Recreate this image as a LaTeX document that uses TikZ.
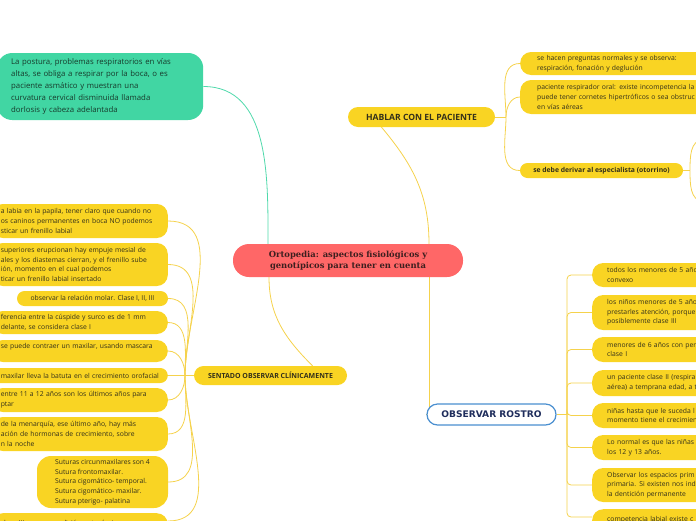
\documentclass[tikz,border=0pt]{standalone}
\usepackage{fontspec}
\setmainfont{Open Sans}
\newfontfamily\slabfont{DejaVu Serif}
\newfontfamily\widefont{DejaVu Sans}
\usetikzlibrary{calc}
\definecolor{ybg}{HTML}{F9D423}
\definecolor{yline}{HTML}{F5D24C}
\definecolor{ytxt}{HTML}{33301A}
\definecolor{gbg}{HTML}{41D6A3}
\definecolor{gline}{HTML}{4FD9AB}
\definecolor{gtxt}{HTML}{173A2B}
\definecolor{rbg}{HTML}{FF6767}
\definecolor{rtxt}{HTML}{3D1F1F}
\definecolor{oline}{HTML}{4A8FD0}
\definecolor{otxt}{HTML}{1F2D5C}
\newcommand{\nb}[1]{\mbox{#1}}
\pgfdeclarelayer{bg}
\pgfsetlayers{bg,main}
\begin{document}
\begin{tikzpicture}[x=1pt,y=1pt,
  ybox/.style={fill=ybg, draw=none, rounded corners=11, text=ytxt, inner sep=0pt,
    font=\fontsize{6.8}{9.7}\selectfont},
  lbox/.style={ybox, anchor=east, text width=158, inner xsep=9, align=left},
  rbox/.style={ybox, anchor=west, text width=200, inner xsep=15, align=left},
  tbox/.style={ybox, anchor=west, text width=200, inner xsep=17, align=left},
  yl/.style={draw=yline, line width=0.8pt},
  gl/.style={draw=gline, line width=0.8pt}]
\useasboundingbox (0,0) rectangle (696,-520);
\clip (0,0) rectangle (696,-520);

% green node
\node[fill=gbg, rounded corners=15, text=gtxt, anchor=west, text width=178, inner xsep=14,
  inner ysep=0pt, minimum height=67, align=left, font=\fontsize{7.8}{12}\selectfont] (G) at (-3,-86.5)
  {La postura, problemas respiratorios en vías\\altas, se obliga a respirar por la boca, o es\\paciente asmático y muestran una\\curvatura cervical disminuida llamada\\dorlosis y cabeza adelantada};

% central
\node[fill=rbg, rounded corners=16, text=rtxt, minimum width=230, minimum height=33, inner sep=0pt,
  align=center, font=\slabfont\bfseries\fontsize{8.4}{11}\selectfont] (C) at (348,-260.5)
  {Ortopedia: aspectos fisiológicos y\\genotípicos para tener en cuenta};

% main topics
\node[ybox, rounded corners=10, minimum width=147, minimum height=20,
  font=\bfseries\fontsize{8.6}{9}\selectfont] (H) at (421.5,-117) {HABLAR CON EL PACIENTE};
\node[ybox, rounded corners=9.5, minimum width=153, minimum height=19,
  font=\bfseries\fontsize{7}{8}\selectfont] (S) at (270.5,-375.5) {SENTADO OBSERVAR CLÍNICAMENTE};
\node[fill=white, draw=oline, line width=1.2pt, rounded corners=10.5, minimum width=129, minimum height=21,
  inner sep=0pt, text=otxt, font=\widefont\bfseries\fontsize{9.1}{10}\selectfont] (O) at (491.5,-414.5) {OBSERVAR ROSTRO};

% top right children
\node[tbox, minimum height=23] (T1) at (520,-63.5)
  {se hacen preguntas normales y se observa:\\respiración, fonación y deglución};
\node[tbox, minimum height=34] (T2) at (520,-97)
  {paciente respirador oral: existe incompetencia la\\puede tener cornetes hipertróficos o sea obstruc\\en vías aéreas};
\node[ybox, rounded corners=7.5, minimum width=163, minimum height=15,
  font=\bfseries\fontsize{6.8}{8}\selectfont] (T3) at (601.5,-170.5) {se debe derivar al especialista (otorrino)};

% left children
\node[lbox, minimum height=34] (L1) at (168,-221)
  {\nb{a labia en la papila, tener claro que cuando no}\\\nb{os caninos permanentes en boca NO podemos}\\sticar un frenillo labial};
\node[lbox, minimum height=43] (L2) at (168,-264.5)
  {\nb{superiores erupcionan hay empuje mesial de}\\\nb{ales y los diastemas cierran, y el frenillo sube}\\ión, momento en el cual podemos\\ticar un frenillo labial insertado};
\node[ybox, rounded corners=7.5, minimum width=151, minimum height=15] (L3) at (92.5,-298.5)
  {observar la relación molar. Clase I, II, III};
\node[lbox, minimum height=23] (L4) at (168,-322.5)
  {\nb{ferencia entre la cúspide y surco es de 1 mm}\\delante, se considera clase I};
\node[lbox, minimum height=22] (L5) at (168,-351)
  {\nb{se puede contraer un maxilar, usando mascara}\\\mbox{}};
\node[lbox, rounded corners=7.5, minimum height=15] (L6) at (168,-375.5)
  {\nb{maxilar lleva la batuta en el crecimiento orofacial}};
\node[lbox, minimum height=24] (L7) at (168,-400)
  {\nb{entre 11 a 12 años son los últimos años para}\\ptar};
\node[lbox, minimum height=34] (L8) at (168,-434)
  {\nb{de la menarquía, ese último año, hay más}\\\nb{ación de hormonas de crecimiento, sobre}\\n la noche};
\node[ybox, rounded corners=14, minimum width=131, minimum height=52, align=left] (L9) at (102.5,-482)
  {Suturas circunmaxilares son 4\\Sutura frontomaxilar.\\Sutura cigomático- temporal.\\Sutura cigomático- maxilar.\\Sutura pterigo- palatina};
\node[lbox, anchor=north east, inner ysep=4, minimum height=30] (L10) at (168,-513)
  {\nb{clase III es una condición autosómica}\\\mbox{}};

% right children
\node[rbox, minimum height=24] (R1) at (592,-275) {todos los menores de 5 años\\convexo};
\node[rbox, minimum height=35] (R2) at (592,-312.5) {los niños menores de 5 años\\prestarles atención, porque\\posiblemente clase III};
\node[rbox, minimum height=25] (R3) at (592,-349.5) {menores de 6 años con per\\clase I};
\node[rbox, minimum height=26] (R4) at (592,-383) {un paciente clase II (respira\\aérea) a temprana edad, a t};
\node[rbox, minimum height=25] (R5) at (592,-415.5) {niñas hasta que le suceda l\\momento tiene el crecimien};
\node[rbox, minimum height=25] (R6) at (592,-447.5) {Lo normal es que las niñas\\los 12 y 13 años.};
\node[rbox, minimum height=34] (R7) at (592,-485) {Observar los espacios prim\\primaria. Si existen nos ind\\la dentición permanente};
\node[rbox, anchor=north west, inner ysep=4, minimum height=30] (R8) at (592,-509) {competencia labial existe c\\\mbox{}};

% junction coordinates
\coordinate (jt) at (506,-117);
\coordinate (jl) at (185,-375.5);
\coordinate (jr) at (567,-414.5);
\coordinate (t3j) at (690,-170.5);
\coordinate (t3u) at (703,-140);
\coordinate (t3d) at (703,-201);

\begin{pgfonlayer}{bg}
  \draw[gl] ([xshift=-80pt]C.north) to[out=90,in=0] (G.east);
  \draw[yl] ([xshift=81pt]C.north) to[out=90,in=-50] ([xshift=-40pt]H.south);
  \draw[yl] ([xshift=-79pt]C.south) to[out=-90,in=135] ([xshift=42pt]S.north);
  \draw[yl] ([xshift=81pt]C.south) |- (O.west);
  % hablar
  \draw[yl] (H.east) -- (jt);
  \draw[yl] (jt) to[out=90,in=180] (T1.west);
  \draw[yl] (jt) to[out=90,in=180] (T2.west);
  \draw[yl] (jt) to[out=-90,in=180] (T3.west);
  \draw[yl] (T3.east) -- (t3j);
  \draw[yl] (t3j) to[out=90,in=180] (t3u);
  \draw[yl] (t3j) to[out=-90,in=180] (t3d);
  % sentado
  \draw[yl] (S.west) -- (jl);
  \foreach \n in {L1,L2,L3,L4,L5}{\draw[yl] (\n.east) to[out=0,in=90] (jl);}
  \draw[yl] (L6.east) -- (jl);
  \foreach \n in {L7,L8,L9}{\draw[yl] (\n.east) to[out=0,in=-90] (jl);}
  \draw[yl] ([yshift=-8pt]L10.north east) to[out=0,in=-90] (jl);
  % observar
  \draw[yl] (O.east) -- (jr);
  \foreach \n in {R1,R2,R3,R4,R5,R6,R7}{\draw[yl, rounded corners=4] (jr) |- (\n.west);}
  \draw[yl, rounded corners=4] (jr) |- ([yshift=-8pt]R8.north west);
\end{pgfonlayer}
\end{tikzpicture}
\end{document}
